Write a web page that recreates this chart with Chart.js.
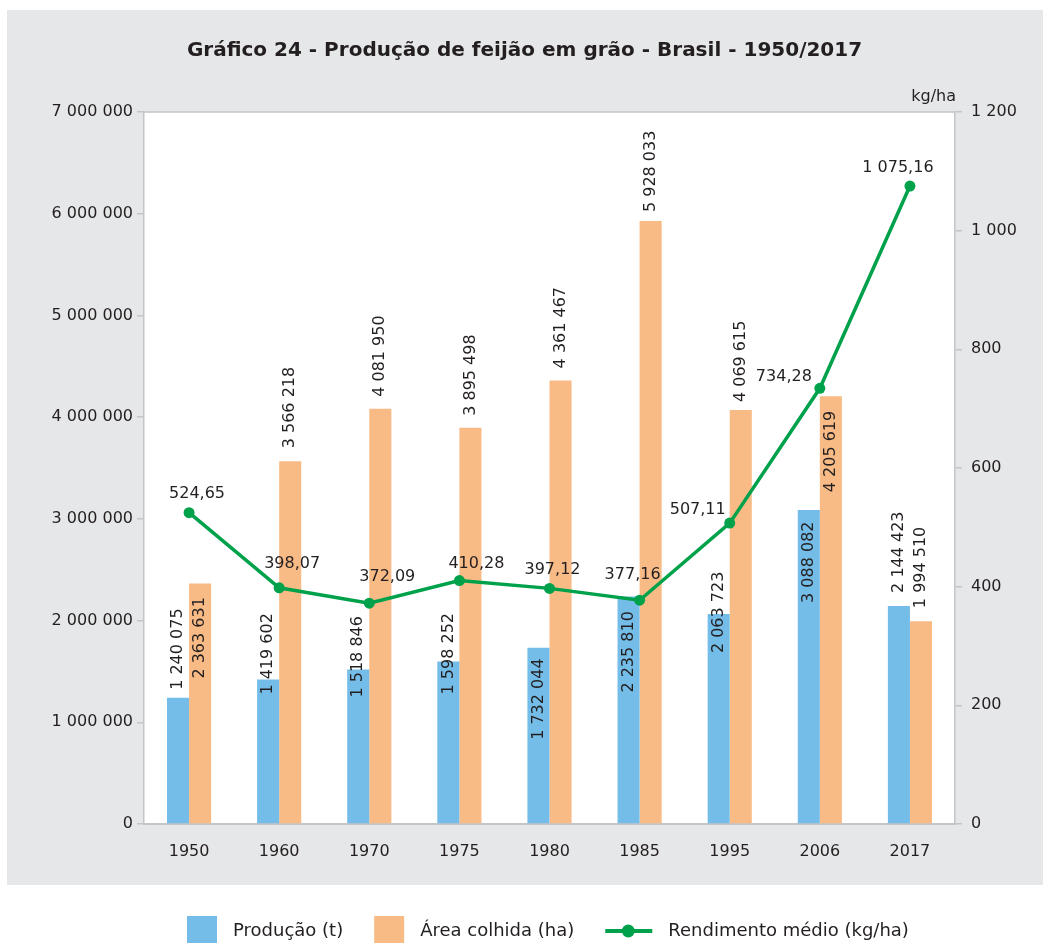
<!DOCTYPE html>
<html lang="pt-BR">
<head>
<meta charset="utf-8">
<title>Produção de feijão em grão - Brasil - 1950/2017</title>
<script src="https://cdn.jsdelivr.net/npm/chart.js@4.4.1/dist/chart.umd.min.js"></script>
<style>
    html, body { margin: 0; padding: 0; background: #ffffff; }
    #grafico { display: block; }
</style>
</head>
<body>
<canvas id="grafico" width="1049" height="943"></canvas>
<script>
// dados
var anos = ["1950", "1960", "1970", "1975", "1980", "1985", "1995", "2006", "2017"];
var producao = [1240075, 1419602, 1518846, 1598252, 1732044, 2235810, 2063723, 3088082, 2144423];
var areaColhida = [2363631, 3566218, 4081950, 3895498, 4361467, 5928033, 4069615, 4205619, 1994510];
var rendimento = [524.65, 398.07, 372.09, 410.28, 397.12, 377.16, 507.11, 734.28, 1075.16];

// posição dos rótulos (px): distância do topo da barra ao início do texto
var desvioProducao = [8, -15, -28, -33, -92, -96, -39, -93, 13];
var desvioArea = [-95, 13, 12, 12, 12, 9, 8, -96, 13];
// rótulos da linha: deslocamento horizontal e altura acima do ponto
var desvioRendX = [8, 13, 18, 17, 3, -7, -32, -36, -12];
var desvioRendY = [19, 24, 26, 17, 19, 25, 13, 11, 18];

var corTexto = "#231f20";
var corAzul = "#74bde8";
var corLaranja = "#f9bb86";
var corVerde = "#00a14b";
var corEixo = "#c4c5c7";
var fonte = "DejaVu Sans";

function milhar(v) {
    return String(v).replace(/\B(?=(\d{3})+(?!\d))/g, " ");
}
function decimal(v) {
    var p = v.toFixed(2).split(".");
    return milhar(p[0]) + "," + p[1];
}

var fundo = {
    id: "fundo",
    beforeDraw: function (chart) {
        var ctx = chart.ctx, a = chart.chartArea;
        ctx.save();
        ctx.fillStyle = "#e6e7e8";
        ctx.fillRect(7, 10, 1036, 875);
        ctx.fillStyle = "#ffffff";
        ctx.fillRect(a.left, a.top, a.right - a.left, a.bottom - a.top);
        ctx.restore();
    },
    afterDatasetsDraw: function (chart) {
        var ctx = chart.ctx;
        ctx.save();
        ctx.fillStyle = corTexto;
        ctx.font = "16px '" + fonte + "'";

        // rótulos verticais das barras
        [[0, producao, desvioProducao], [1, areaColhida, desvioArea]].forEach(function (s) {
            var meta = chart.getDatasetMeta(s[0]);
            meta.data.forEach(function (el, i) {
                ctx.save();
                ctx.translate(el.x, el.y - s[2][i]);
                ctx.rotate(-Math.PI / 2);
                ctx.textAlign = "left";
                ctx.textBaseline = "middle";
                ctx.fillText(milhar(s[1][i]), 0, 0);
                ctx.restore();
            });
        });

        // rótulos da linha
        var metaL = chart.getDatasetMeta(2);
        ctx.textAlign = "center";
        ctx.textBaseline = "middle";
        metaL.data.forEach(function (el, i) {
            ctx.fillText(decimal(rendimento[i]), el.x + desvioRendX[i], el.y - desvioRendY[i]);
        });
        ctx.restore();
    },
    afterDraw: function (chart) {
        var ctx = chart.ctx, a = chart.chartArea;
        ctx.save();
        // borda superior da área do gráfico
        ctx.strokeStyle = corEixo;
        ctx.lineWidth = 1.5;
        ctx.beginPath();
        ctx.moveTo(a.left, a.top);
        ctx.lineTo(a.right, a.top);
        ctx.stroke();

        ctx.fillStyle = corTexto;
        ctx.font = "16px '" + fonte + "'";
        ctx.textAlign = "right";
        ctx.textBaseline = "middle";
        ctx.fillText("kg/ha", a.right + 1, a.top - 15);

        // legenda
        ctx.font = "18px '" + fonte + "'";
        ctx.textAlign = "left";
        var x = 187, y = 931;
        chart.data.datasets.forEach(function (ds) {
            if (ds.type === "line") {
                ctx.strokeStyle = ds.borderColor;
                ctx.lineWidth = 4;
                ctx.beginPath();
                ctx.moveTo(x, y);
                ctx.lineTo(x + 47, y);
                ctx.stroke();
                ctx.fillStyle = ds.borderColor;
                ctx.beginPath();
                ctx.arc(x + 23, y, 6.5, 0, Math.PI * 2);
                ctx.fill();
                x += 63;
            } else {
                ctx.fillStyle = ds.backgroundColor;
                ctx.fillRect(x, y - 15, 30, 30);
                x += 46;
            }
            ctx.fillStyle = corTexto;
            ctx.fillText(ds.label, x, y);
            x += ctx.measureText(ds.label).width + 31;
        });
        ctx.restore();
    }
};

var ctx = document.getElementById("grafico").getContext("2d");
new Chart(ctx, {
    type: "bar",
    data: {
        labels: anos,
        datasets: [{
            label: "Produção (t)",
            data: producao,
            backgroundColor: corAzul,
            yAxisID: "y",
            order: 1
        }, {
            label: "Área colhida (ha)",
            data: areaColhida,
            backgroundColor: corLaranja,
            yAxisID: "y",
            order: 1
        }, {
            type: "line",
            label: "Rendimento médio (kg/ha)",
            data: rendimento,
            borderColor: corVerde,
            backgroundColor: corVerde,
            borderWidth: 3.5,
            pointRadius: 5.5,
            pointBorderWidth: 0,
            pointBackgroundColor: corVerde,
            tension: 0,
            yAxisID: "y1",
            order: 0
        }]
    },
    options: {
        responsive: false,
        animation: false,
        devicePixelRatio: 1,
        layout: { padding: 0, autoPadding: false },
        datasets: {
            bar: { barPercentage: 1, categoryPercentage: 0.49 }
        },
        plugins: {
            legend: { display: false },
            tooltip: { enabled: false },
            title: {
                display: true,
                text: "Gráfico 24 - Produção de feijão em grão - Brasil - 1950/2017",
                color: corTexto,
                font: { family: fonte, size: 20, weight: "bold" },
                padding: { top: 39, bottom: 49 }
            }
        },
        scales: {
            x: {
                grid: { display: false },
                border: { display: true, color: corEixo, width: 2 },
                ticks: { color: corTexto, font: { family: fonte, size: 16 }, padding: 10 },
                afterFit: function (s) { s.height = 119; }
            },
            y: {
                position: "left",
                min: 0,
                max: 7000000,
                grid: { drawOnChartArea: false, drawTicks: true, tickLength: 7, color: corEixo, lineWidth: 1.5 },
                border: { color: corEixo, width: 1.5 },
                ticks: {
                    stepSize: 1000000,
                    padding: 4,
                    color: corTexto,
                    font: { family: fonte, size: 16 },
                    callback: function (v) { return milhar(v); }
                },
                afterFit: function (s) { s.width = 144; }
            },
            y1: {
                position: "right",
                min: 0,
                max: 1200,
                grid: { drawOnChartArea: false, drawTicks: true, tickLength: 7, color: corEixo, lineWidth: 1.5 },
                border: { color: corEixo, width: 1.5 },
                ticks: {
                    stepSize: 200,
                    padding: 9,
                    color: corTexto,
                    font: { family: fonte, size: 16 },
                    callback: function (v) { return milhar(v); }
                },
                afterFit: function (s) { s.width = 94; }
            }
        }
    },
    plugins: [fundo]
});
</script>
</body>
</html>
